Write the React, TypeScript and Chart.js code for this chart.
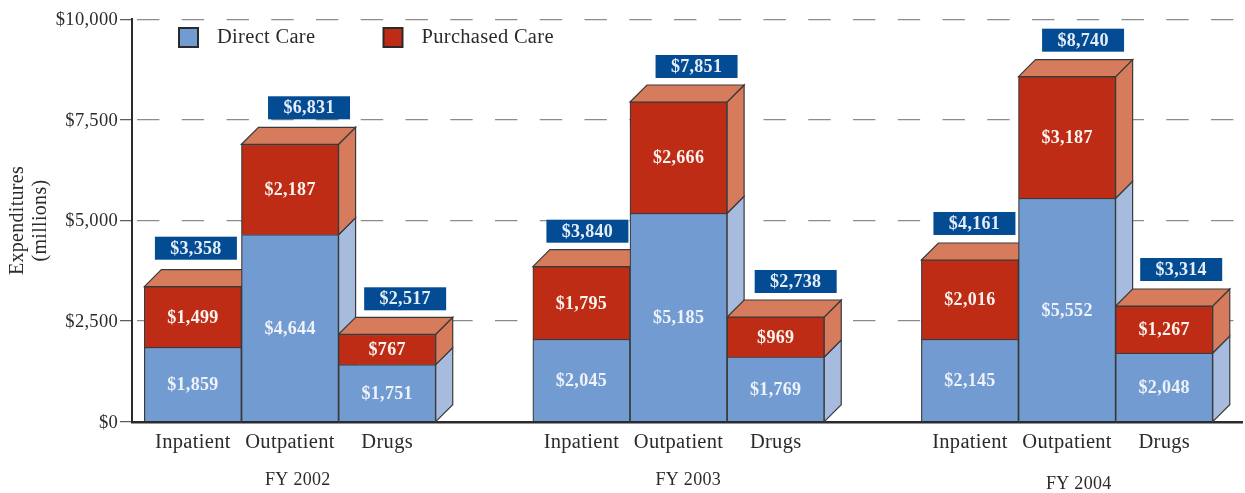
import React, { useEffect, useRef } from "react";
import { Chart, registerables } from "chart.js";

Chart.register(...registerables);

// Slot of each column on the linear x axis (empty slots separate the fiscal years)
const columnSlots = [0, 1, 2, 4, 5, 6, 8, 9, 10];
const columnNames = ["Inpatient", "Outpatient", "Drugs", "Inpatient", "Outpatient", "Drugs", "Inpatient", "Outpatient", "Drugs"];

// Heights as drawn in the picture, read against the y axis
const directCareDrawn = [1849, 4647, 1417, 2048, 5179, 1608, 2048, 5552, 1707];
const purchasedCareDrawn = [1506, 2247, 755, 1804, 2766, 994, 1971, 3022, 1168];

// Numbers printed on the picture
const directCarePrinted = [1859, 4644, 1751, 2045, 5185, 1769, 2145, 5552, 2048];
const purchasedCarePrinted = [1499, 2187, 767, 1795, 2666, 969, 2016, 3187, 1267];
const totalsPrinted = [3358, 6831, 2517, 3840, 7851, 2738, 4161, 8740, 3314];

const fiscalYears = ["FY 2002", "FY 2003", "FY 2004"];
const yTicks = [0, 2500, 5000, 7500, 10000];

// Label placement (not data)
const fiscalYearSlots = [1.08, 5.1, 9.12];
const fiscalYearY = [480.5, 480.5, 484.5];
const badgeShiftX = [3, 19, 18, 6, 18, 20, 4.5, 16, 17];
const badgeGapY = [50, 48, 47, 47, 47, 47, 48, 48, 48];

const BLUE = "#729BD1";
const RED = "#BE2C16";
const BLUE_SIDE = "#A7BBDE";
const RED_SIDE = "#D67C5C";
const EDGE = "#3a3a3a";
const TEXT = "#2b2b2b";
const BADGE = "#034C94";
const SERIF = "'Liberation Serif', serif";
const DEPTH = 17;
const SLOT_W = 97.13;

const money = (v: number) => "$" + v.toLocaleString("en-US");

function quad(ctx: CanvasRenderingContext2D, pts: number[][], fill: string) {
  ctx.beginPath();
  pts.forEach((p, i) => (i ? ctx.lineTo(p[0], p[1]) : ctx.moveTo(p[0], p[1])));
  ctx.closePath();
  ctx.fillStyle = fill;
  ctx.fill();
  ctx.lineWidth = 1.2;
  ctx.strokeStyle = EDGE;
  ctx.stroke();
}

const chartPlugin = {
  id: "boxes",
  beforeDraw(chart: any) {
    chart.ctx.letterSpacing = "0.3px";
  },
  beforeDatasetsDraw(chart: any) {
    const { ctx, scales } = chart;
    const half = SLOT_W / 2;
    ctx.save();
    columnSlots.forEach((slot, i) => {
      const r = scales.x.getPixelForValue(slot) + half;
      const l = r - SLOT_W;
      const y0 = scales.y.getPixelForValue(0);
      const y1 = scales.y.getPixelForValue(directCareDrawn[i]);
      const y2 = scales.y.getPixelForValue(directCareDrawn[i] + purchasedCareDrawn[i]);
      const d = DEPTH;
      quad(ctx, [[r, y0], [r + d, y0 - d], [r + d, y1 - d], [r, y1]], BLUE_SIDE);
      quad(ctx, [[r, y1], [r + d, y1 - d], [r + d, y2 - d], [r, y2]], RED_SIDE);
      quad(ctx, [[l, y2], [l + d, y2 - d], [r + d, y2 - d], [r, y2]], RED_SIDE);
    });
    ctx.restore();
  },
  afterDatasetsDraw(chart: any) {
    const { ctx, scales } = chart;
    ctx.save();
    ctx.textAlign = "center";
    ctx.textBaseline = "middle";
    columnSlots.forEach((slot, i) => {
      const cx = scales.x.getPixelForValue(slot);
      const y0 = scales.y.getPixelForValue(0);
      const y1 = scales.y.getPixelForValue(directCareDrawn[i]);
      const y2 = scales.y.getPixelForValue(directCareDrawn[i] + purchasedCareDrawn[i]);
      ctx.font = `bold 18px ${SERIF}`;
      ctx.fillStyle = "#eef2fa";
      ctx.fillText(money(directCarePrinted[i]), cx, (y0 + y1) / 2 + 1);
      ctx.fillStyle = "#fbf3ee";
      ctx.fillText(money(purchasedCarePrinted[i]), cx, (y1 + y2) / 2 + 1);
      const bx = cx + badgeShiftX[i];
      const by = y2 - badgeGapY[i];
      ctx.fillStyle = BADGE;
      ctx.fillRect(bx - 41, by, 82, 23);
      ctx.fillStyle = "#e6edf7";
      ctx.fillText(money(totalsPrinted[i]), bx, by + 12.5);
    });
    ctx.fillStyle = TEXT;
    ctx.font = `18px ${SERIF}`;
    fiscalYears.forEach((fy, i) => {
      ctx.fillText(fy, scales.x.getPixelForValue(fiscalYearSlots[i]), fiscalYearY[i]);
    });
    // Legend, offset inside the plot area
    ctx.textAlign = "left";
    ctx.font = `20.5px ${SERIF}`;
    const legendX = [179, 383.5];
    chart.data.datasets.forEach((ds: any, i: number) => {
      ctx.fillStyle = ds.backgroundColor;
      ctx.strokeStyle = "#2a2a2a";
      ctx.lineWidth = 2;
      ctx.fillRect(legendX[i], 28, 19, 19);
      ctx.strokeRect(legendX[i], 28, 19, 19);
      ctx.fillStyle = TEXT;
      ctx.fillText(ds.label, legendX[i] + 38, 38);
    });
    ctx.restore();
  },
};

export default function App() {
  const ref = useRef<HTMLCanvasElement>(null);
  useEffect(() => {
    const chart = new Chart(ref.current!, {
      type: "bar",
      plugins: [chartPlugin],
      data: {
        datasets: [
          {
            label: "Direct Care",
            data: columnSlots.map((x, i) => ({ x, y: directCareDrawn[i] })),
            backgroundColor: BLUE,
            borderColor: EDGE,
            borderWidth: 1.2,
            barThickness: SLOT_W,
          },
          {
            label: "Purchased Care",
            data: columnSlots.map((x, i) => ({ x, y: purchasedCareDrawn[i] })),
            backgroundColor: RED,
            borderColor: EDGE,
            borderWidth: 1.2,
            barThickness: SLOT_W,
          },
        ],
      } as any,
      options: {
        responsive: false,
        animation: false,
        layout: { padding: { top: 19.3, right: 3, bottom: 0, left: 0 } },
        plugins: { legend: { display: false }, tooltip: { enabled: false } },
        scales: {
          x: {
            type: "linear",
            stacked: true,
            offset: false,
            min: -0.627,
            max: 10.801,
            grid: { display: false },
            border: { color: "#2b2b2b", width: 2.4 },
            afterBuildTicks: (s: any) => {
              s.ticks = columnSlots.map((value) => ({ value }));
            },
            afterFit: (s: any) => {
              s.height = 71.3;
            },
            ticks: {
              padding: 1,
              autoSkip: false,
              maxRotation: 0,
              color: TEXT,
              font: { family: SERIF, size: 20.5 },
              callback: (v: any) => columnNames[columnSlots.indexOf(Number(v))] ?? "",
            },
          },
          y: {
            stacked: true,
            min: 0,
            max: 10000,
            afterBuildTicks: (s: any) => {
              s.ticks = yTicks.map((value) => ({ value }));
            },
            afterFit: (s: any) => {
              s.width = 132;
            },
            grid: { color: "#8c8c8c", lineWidth: 1.3, tickLength: 12, tickColor: "#555", tickWidth: 1.2 },
            border: { color: "#2b2b2b", width: 2, dash: [22.4, 22.35], dashOffset: 40.75 },
            ticks: {
              padding: 2,
              labelOffset: 1,
              color: TEXT,
              font: { family: SERIF, size: 18.5 },
              callback: (v: any) => money(Number(v)),
            },
            title: {
              display: true,
              text: ["Expenditures", "(millions)"],
              color: TEXT,
              font: { family: SERIF, size: 20, lineHeight: 1.17 },
              padding: { top: 6, bottom: 0 },
            },
          },
        },
      } as any,
    });
    return () => chart.destroy();
  }, []);
  return (
    <canvas
      ref={ref}
      width={1245}
      height={493}
      style={{ position: "fixed", left: 0, top: 0, display: "block" }}
    />
  );
}
